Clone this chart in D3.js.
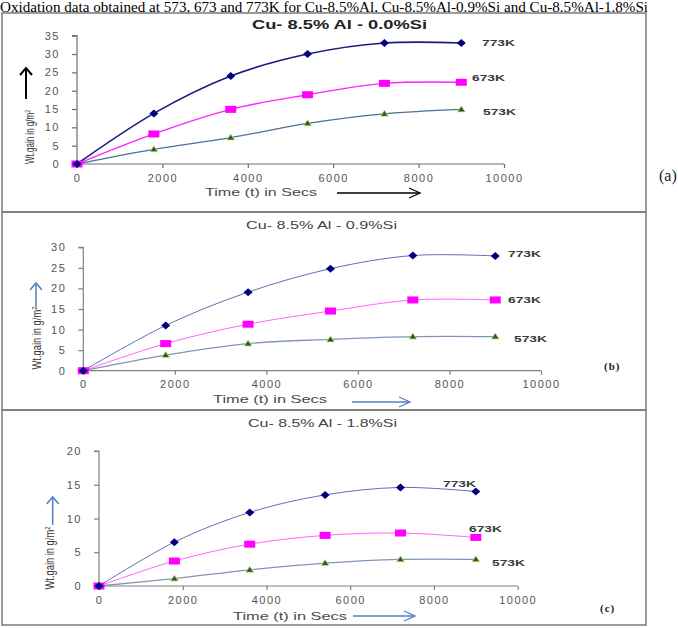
<!DOCTYPE html>
<html><head><meta charset="utf-8">
<script src="https://cdn.jsdelivr.net/npm/d3@7"></script>
<style>body{margin:0;background:#fff}svg{display:block}</style>
</head><body>
<svg id="c" width="678" height="628"></svg>
<script>
// ---- data ----
const caption = "Oxidation data obtained at 573, 673 and 773K for Cu-8.5%Al, Cu-8.5%Al-0.9%Si and Cu-8.5%Al-1.8%Si";
const times = [0, 1800, 3600, 5400, 7200, 9000];
const seriesNames = ["773K", "673K", "573K"];
const panelTitles = ["Cu- 8.5% Al - 0.0%Si", "Cu- 8.5% Al - 0.9%Si", "Cu- 8.5% Al - 1.8%Si"];
const panelTags = ["(a)", "(b)", "(c)"];
const xTicks = [0, 2000, 4000, 6000, 8000, 10000];
const yTicksA = [0, 5, 10, 15, 20, 25, 30, 35];
const yTicksB = [0, 5, 10, 15, 20, 25, 30];
const yTicksC = [0, 5, 10, 15, 20];
const a773 = [0, 13.8, 24.0, 30.0, 33.0, 33.0];
const a673 = [0, 8.2, 14.9, 18.9, 22.0, 22.3];
const a573 = [0, 4.0, 7.2, 11.1, 13.7, 14.9];
const b773 = [0, 11.0, 19.1, 24.8, 28.0, 27.9];
const b673 = [0, 6.6, 11.3, 14.5, 17.2, 17.2];
const b573 = [0, 3.8, 6.6, 7.6, 8.3, 8.3];
const c773 = [0, 6.5, 10.9, 13.5, 14.6, 14.0];
const c673 = [0, 3.7, 6.2, 7.5, 7.85, 7.2];
const c573 = [0, 1.1, 2.4, 3.4, 3.95, 3.95];
const yLabel = "Wt.gain in g/m";
const xLabel = "Time (t) in Secs";

// ---- layout ----
const panels = [
  {box:[2,13,646,212], x:[77,504], y:[164,35.7], yTicks:yTicksA, series:[a773,a673,a573],
   title:{x:252, y:29, w:175, bold:true, size:12},
   labels:[[482,46],[472,81],[483,115]],
   yl:{cx:30, cy:137, len:54}, yArrow:{x:26, y1:99, y2:68, color:"#000", w:2},
   xl:{x:205, y:196, w:112}, xArrow:{x1:337, x2:420, y:193, color:"#000"},
   tag:{x:659, y:181, serif:true},
   strong:true},
  {box:[2,212,646,410], x:[83.3,541], y:[370.7,247.3], yTicks:yTicksB, series:[b773,b673,b573],
   title:{x:246, y:229, w:151, bold:false, size:11},
   labels:[[508,257],[508,303],[514,342]],
   yl:{cx:37, cy:338, len:63}, yArrow:{x:36, y1:307, y2:283, color:"#4f81bd", w:1.5},
   xl:{x:213, y:403, w:114}, xArrow:{x1:352, x2:410, y:402, color:"#4f81bd"},
   tag:{x:604, y:370, serif:false},
   strong:false},
  {box:[2,410,646,625], x:[99,517.7], y:[586,451], yTicks:yTicksC, series:[c773,c673,c573],
   title:{x:248, y:427, w:149, bold:false, size:11},
   labels:[[443,487],[469,532],[492,566]],
   yl:{cx:50, cy:558, len:63}, yArrow:{x:52.7, y1:525, y2:497, color:"#4f81bd", w:1.5},
   xl:{x:233, y:620, w:114}, xArrow:{x1:353, x2:415, y:616, color:"#4f81bd"},
   tag:{x:600, y:612, serif:false},
   strong:false}
];

const svg = d3.select("#c");
const FONT = "'Liberation Sans', Arial, sans-serif";

svg.append("text").attr("x", 0).attr("y", 12)
  .attr("font-family", "'Liberation Serif', 'Times New Roman', serif")
  .attr("font-size", 15).attr("fill", "#000")
  .attr("textLength", 648).attr("lengthAdjust", "spacingAndGlyphs")
  .text(caption);

panels.forEach((p, pi) => {
  const g = svg.append("g");
  const [bx0, by0, bx1, by1] = p.box;
  g.append("rect").attr("x", bx0).attr("y", by0).attr("width", bx1 - bx0).attr("height", by1 - by0)
    .attr("fill", "none").attr("stroke", "#7a7a7a").attr("stroke-width", 1.5);

  const yMax = d3.max(p.yTicks);
  const x = d3.scaleLinear().domain([0, 10000]).range(p.x);
  const y = d3.scaleLinear().domain([0, yMax]).range(p.y);

  // axes
  const xAxis = d3.axisBottom(x).tickValues(xTicks).tickSize(4).tickPadding(6).tickFormat(d3.format("d"));
  const yAxis = d3.axisLeft(y).tickValues(p.yTicks).tickSize(5).tickPadding(12).tickFormat(d3.format("d"));
  const axCol = p.strong ? "#6e6e6e" : "#808080";
  const gx = g.append("g").attr("transform", `translate(0,${p.y[0]})`).call(xAxis);
  const gy = g.append("g").attr("transform", `translate(${p.x[0]},0)`).call(yAxis);
  [gx, gy].forEach(ax => {
    ax.selectAll("path,line").attr("stroke", axCol).attr("stroke-width", 1.2);
    ax.selectAll("text").attr("font-family", FONT).attr("font-size", 11)
      .attr("fill", "#555").attr("letter-spacing", 1.5);
  });
  gy.select(".domain").attr("d", `M-5,${p.y[1]}H0V${p.y[0]}`);
  gx.select(".domain").attr("d", `M${p.x[0]},0H${p.x[1]}`);

  // title
  g.append("text").attr("x", p.title.x).attr("y", p.title.y)
    .attr("font-family", FONT).attr("font-size", p.title.size)
    .attr("font-weight", p.title.bold ? "bold" : "normal").attr("fill", p.title.bold ? "#222" : "#444")
    .attr("textLength", p.title.w).attr("lengthAdjust", "spacingAndGlyphs")
    .text(panelTitles[pi]);

  // lines
  const lineStyles = p.strong
    ? [{c:"#1c1c80", w:1.6}, {c:"#ff22ff", w:1.4}, {c:"#4d7099", w:1.3}]
    : [{c:"#6a6ab4", w:1}, {c:"#ff66ff", w:1}, {c:"#8096b8", w:1.3}];
  const line = d3.line().x((d, i) => x(times[i])).y(d => y(d)).curve(d3.curveCardinal.tension(0));
  p.series.forEach((s, si) => {
    g.append("path").datum(s).attr("d", line).attr("fill", "none")
      .attr("stroke", lineStyles[si].c).attr("stroke-width", lineStyles[si].w);
  });

  // markers
  const s573 = p.series[2], s673 = p.series[1], s773 = p.series[0];
  g.selectAll(".tri").data(s573).join("path")
    .attr("transform", (d, i) => `translate(${x(times[i])},${y(d)})`)
    .attr("d", "M0,-3.5L4,2.5L-4,2.5Z").attr("fill", "#1f5a44")
    .attr("stroke", "#e8e860").attr("stroke-width", 0.8);
  g.selectAll(".sq").data(s673).join("rect")
    .attr("x", (d, i) => x(times[i]) - 5.5).attr("y", d => y(d) - 3.5)
    .attr("width", 11).attr("height", 7).attr("fill", "#ff00ff");
  g.selectAll(".dia").data(s773).join("path")
    .attr("transform", (d, i) => `translate(${x(times[i])},${y(d)})`)
    .attr("d", "M0,-4L4.5,0L0,4L-4.5,0Z").attr("fill", "#000080");

  // series labels
  seriesNames.forEach((n, si) => {
    g.append("text").attr("x", p.labels[si][0]).attr("y", p.labels[si][1])
      .attr("font-family", FONT).attr("font-size", 9).attr("font-weight", "bold")
      .attr("fill", "#3a3a3a").attr("textLength", 33).attr("lengthAdjust", "spacingAndGlyphs")
      .text(n);
  });

  // y label
  const yl = g.append("text")
    .attr("transform", `translate(${p.yl.cx + 4},${p.yl.cy}) rotate(-90)`)
    .attr("text-anchor", "middle").attr("font-family", FONT).attr("font-size", 12.5)
    .attr("fill", "#333").attr("textLength", p.yl.len).attr("lengthAdjust", "spacingAndGlyphs");
  yl.append("tspan").text(yLabel);
  yl.append("tspan").attr("font-size", 8).attr("dy", -4).text("2");

  // y arrow
  const ya = p.yArrow;
  g.append("line").attr("x1", ya.x).attr("x2", ya.x).attr("y1", ya.y1).attr("y2", ya.y2 + 1)
    .attr("stroke", ya.color).attr("stroke-width", ya.w);
  g.append("path").attr("d", `M${ya.x - 6},${ya.y2 + 7}L${ya.x},${ya.y2}L${ya.x + 6},${ya.y2 + 7}`)
    .attr("fill", "none").attr("stroke", ya.color).attr("stroke-width", ya.w);

  // x label
  g.append("text").attr("x", p.xl.x).attr("y", p.xl.y)
    .attr("font-family", FONT).attr("font-size", 11).attr("fill", "#4a4a4a")
    .attr("textLength", p.xl.w).attr("lengthAdjust", "spacingAndGlyphs")
    .text(xLabel);

  // x arrow
  const xa = p.xArrow;
  g.append("line").attr("x1", xa.x1).attr("x2", xa.x2 - 1).attr("y1", xa.y).attr("y2", xa.y)
    .attr("stroke", xa.color).attr("stroke-width", 1.3);
  g.append("path").attr("d", `M${xa.x2 - 11},${xa.y - 5}L${xa.x2},${xa.y}L${xa.x2 - 11},${xa.y + 5}`)
    .attr("fill", "none").attr("stroke", xa.color).attr("stroke-width", 1.3);

  // tag
  g.append("text").attr("x", p.tag.x).attr("y", p.tag.y)
    .attr("font-family", "'Liberation Serif', serif")
    .attr("font-size", p.tag.serif ? 16 : 11).attr("font-weight", p.tag.serif ? "normal" : "bold")
    .attr("letter-spacing", p.tag.serif ? 0 : 1)
    .attr("fill", "#222").text(panelTags[pi]);
});
</script>
</body></html>
